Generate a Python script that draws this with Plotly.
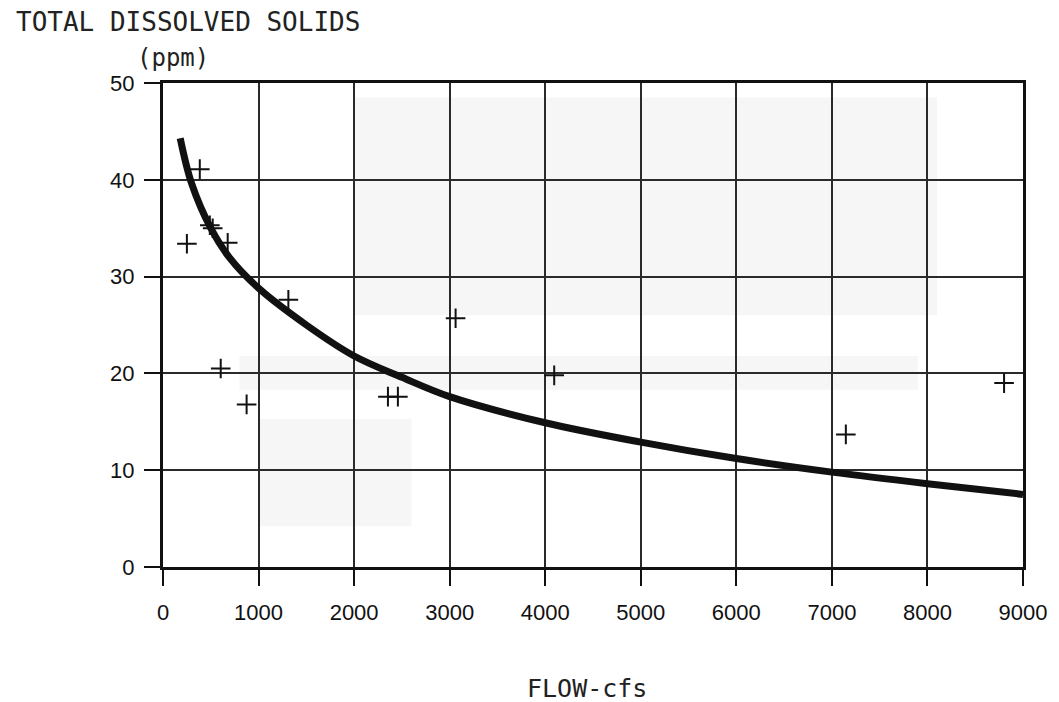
import plotly.graph_objects as go

# Observed data points (flow in cfs, TDS in ppm)
flow_obs = [250, 385, 490, 520, 677, 604, 875, 1312, 2354, 2458, 3062, 4094, 7146, 8802]
tds_obs = [33.4, 41.1, 35.3, 35.0, 33.5, 20.5, 16.8, 27.6, 17.6, 17.6, 25.7, 19.8, 13.7, 19.0]

# Fitted curve
flow_fit = [180, 300, 500, 700, 1000, 1500, 2000, 2500, 3000, 4000, 5000, 6000, 7000, 8000, 9000]
tds_fit = [44.3, 39.6, 35.0, 31.9, 28.8, 25.0, 21.8, 19.6, 17.6, 14.9, 12.9, 11.2, 9.8, 8.6, 7.5]

x_ticks = [0, 1000, 2000, 3000, 4000, 5000, 6000, 7000, 8000, 9000]
y_ticks = [0, 10, 20, 30, 40, 50]

SANS = "Liberation Sans, Arial, sans-serif"
MONO = "DejaVu Sans Mono, Liberation Mono, monospace"

fig = go.Figure()

# faint scan shading
for x0, x1, y0, y1 in [(2000, 8100, 26, 48.5), (1000, 2600, 4.2, 15.3), (800, 7900, 18.3, 21.8)]:
    fig.add_shape(type="rect", xref="x", yref="y", x0=x0, x1=x1, y0=y0, y1=y1,
                  fillcolor="#f6f6f6", line=dict(width=0), layer="below")

fig.add_trace(go.Scatter(x=flow_fit, y=tds_fit, mode="lines",
                         line=dict(color="#111111", width=7, shape="spline", smoothing=1.0),
                         hoverinfo="skip", showlegend=False))
fig.add_trace(go.Scatter(x=flow_obs, y=tds_obs, mode="markers",
                         marker=dict(symbol="cross-thin", size=14,
                                     line=dict(color="#111111", width=2)),
                         showlegend=False))

fig.update_xaxes(range=[0, 9000], tickvals=x_ticks, ticktext=[str(v) for v in x_ticks],
                 showgrid=True, gridcolor="#2a2a2a", gridwidth=1.5,
                 zeroline=False, showline=True, linecolor="#111111", linewidth=2.5, mirror=True,
                 ticks="outside", ticklen=16, tickcolor="#111111", tickwidth=1.5,
                 ticklabelstandoff=8,
                 tickfont=dict(family=SANS, size=22, color="#111111"))
fig.update_yaxes(range=[0, 50], tickvals=y_ticks, ticktext=[str(v) for v in y_ticks],
                 showgrid=True, gridcolor="#2a2a2a", gridwidth=1.5,
                 zeroline=False, showline=True, linecolor="#111111", linewidth=3, mirror=True,
                 ticks="outside", ticklen=16, tickcolor="#111111", tickwidth=1.5,
                 ticklabelstandoff=5,
                 tickfont=dict(family=SANS, size=22, color="#111111"))

fig.add_annotation(text="TOTAL DISSOLVED SOLIDS", xref="paper", yref="paper",
                   x=-0.1736, y=1.126, xanchor="left", yanchor="middle", showarrow=False,
                   font=dict(family=MONO, size=26, color="#222222"))
fig.add_annotation(text="(ppm)", xref="paper", yref="paper",
                   x=-0.032, y=1.052, xanchor="left", yanchor="middle", showarrow=False,
                   font=dict(family=MONO, size=24, color="#222222"))
fig.add_annotation(text="FLOW-cfs", xref="paper", yref="paper",
                   x=0.493, y=-0.251, xanchor="center", yanchor="middle", showarrow=False,
                   font=dict(family=MONO, size=25, color="#222222"))

fig.update_layout(width=1059, height=702, paper_bgcolor="white", plot_bgcolor="white",
                  margin=dict(l=163, r=32, t=83, b=135))

fig.write_html("out.html")
